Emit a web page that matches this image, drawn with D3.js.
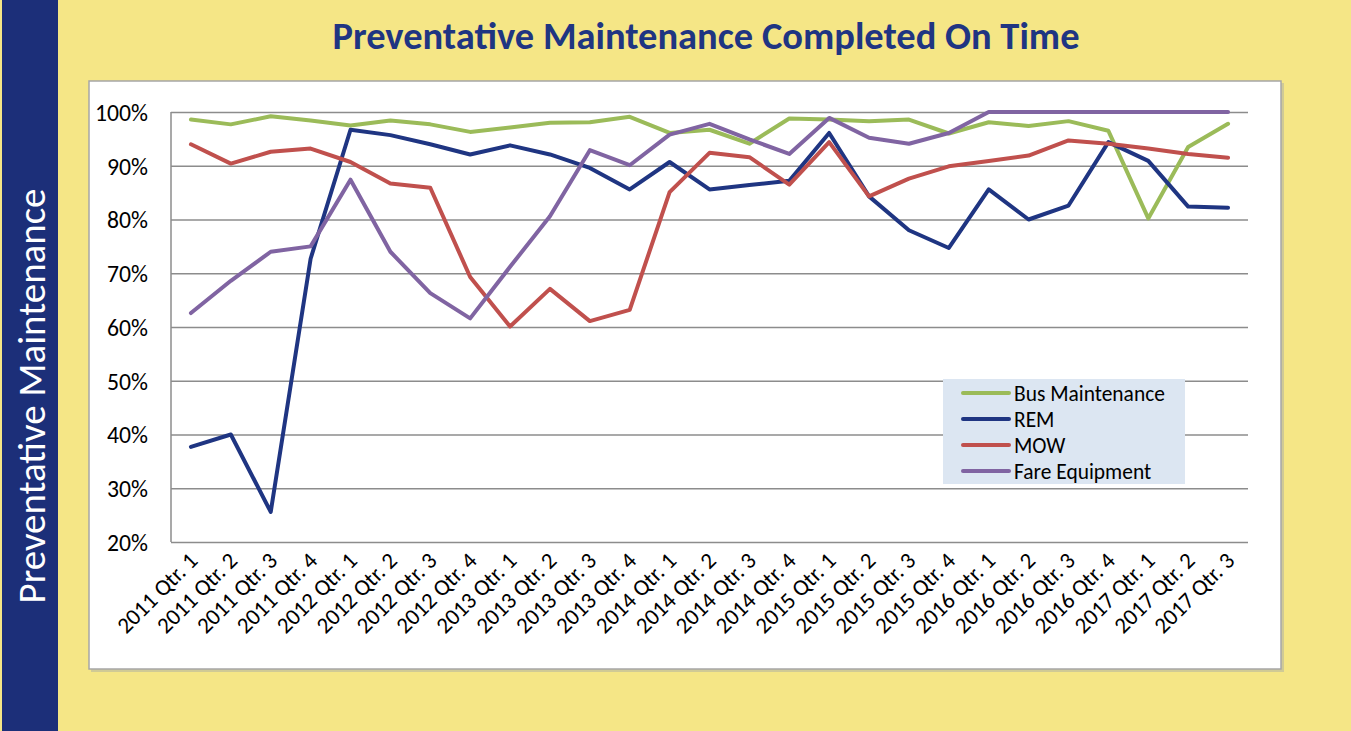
<!DOCTYPE html>
<html>
<head>
<meta charset="utf-8">
<script src="https://cdn.jsdelivr.net/npm/d3@7/dist/d3.min.js"></script>
<style>
  html, body { margin: 0; padding: 0; background: #F5E686; }
  svg { display: block; }
  text { font-family: Carlito, Calibri, "Open Sans", sans-serif; }
</style>
</head>
<body>
<svg id="chart" width="1351" height="731"></svg>
<script>
const categories = [
  "2011 Qtr. 1","2011 Qtr. 2","2011 Qtr. 3","2011 Qtr. 4",
  "2012 Qtr. 1","2012 Qtr. 2","2012 Qtr. 3","2012 Qtr. 4",
  "2013 Qtr. 1","2013 Qtr. 2","2013 Qtr. 3","2013 Qtr. 4",
  "2014 Qtr. 1","2014 Qtr. 2","2014 Qtr. 3","2014 Qtr. 4",
  "2015 Qtr. 1","2015 Qtr. 2","2015 Qtr. 3","2015 Qtr. 4",
  "2016 Qtr. 1","2016 Qtr. 2","2016 Qtr. 3","2016 Qtr. 4",
  "2017 Qtr. 1","2017 Qtr. 2","2017 Qtr. 3"
];
const busMaintenance = [98.6,97.7,99.2,98.4,97.5,98.4,97.7,96.3,97.1,98.0,98.1,99.1,96.1,96.7,94.1,98.8,98.6,98.3,98.6,96.0,98.1,97.4,98.3,96.5,80.2,93.5,97.8];
const rem = [37.7,40.0,25.6,72.7,96.7,95.7,94.0,92.1,93.8,92.1,89.6,85.6,90.7,85.6,86.4,87.2,96.1,84.3,78.0,74.7,85.6,80.0,82.6,94.4,90.9,82.4,82.2];
const mow = [94.0,90.4,92.6,93.2,90.7,86.7,85.9,69.3,60.1,67.1,61.1,63.2,85.1,92.4,91.6,86.5,94.4,84.3,87.6,89.9,90.9,91.9,94.7,94.1,93.2,92.2,91.5];
const fareEquipment = [62.6,68.6,74.0,75.0,87.4,74.0,66.3,61.6,71.2,80.6,92.9,90.1,95.8,97.8,94.9,92.2,98.9,95.2,94.1,96.1,100,100,100,100,100,100,100];
const seriesNames = ["Bus Maintenance","REM","MOW","Fare Equipment"];
const seriesColors = ["#9BBB59","#1F3582","#C0504D","#8064A2"];
const yTicks = [20,30,40,50,60,70,80,90,100];
const titleText = "Preventative Maintenance Completed On Time";
const yAxisTitle = "Preventative Maintenance";

const seriesValues = [busMaintenance, rem, mow, fareEquipment];
const svg = d3.select("#chart");

function fitWidth(sel, target, base) {
  sel.style("font-size", base + "px");
  const w = sel.node().getComputedTextLength();
  sel.style("font-size", (base * target / w).toFixed(2) + "px");
}

// backgrounds
svg.append("rect").attr("x",0).attr("y",0).attr("width",1351).attr("height",731).attr("fill","#F5E686");
svg.append("rect").attr("x",2).attr("y",0).attr("width",56).attr("height",731).attr("fill","#1C2F79");

// vertical side title
const yt = svg.append("text")
  .attr("transform","translate(45,396) rotate(-90)")
  .attr("text-anchor","middle")
  .attr("fill","#FFFFFF")
  .text(yAxisTitle);
fitWidth(yt, 415, 28);

// main title
const tt = svg.append("text")
  .attr("x",706).attr("y",49)
  .attr("text-anchor","middle")
  .attr("fill","#1F3582")
  .attr("font-weight","bold")
  .text(titleText);
fitWidth(tt, 747, 32);

// chart box
svg.append("rect").attr("x",91).attr("y",83).attr("width",1193).attr("height",589).attr("fill","#B8B8A0").attr("opacity",0.6);
svg.append("rect").attr("x",89).attr("y",81).attr("width",1192).attr("height",588)
  .attr("fill","#FFFFFF").attr("stroke","#A6A6A6").attr("stroke-width",1.5);

const margin = {left:171, right:1248, top:112, bottom:542};
const x = d3.scaleBand().domain(categories).range([margin.left, margin.right]);
const y = d3.scaleLinear().domain([20,100]).range([margin.bottom, margin.top]);
const cx = d => x(d) + x.bandwidth()/2;

// gridlines
const yAxis = d3.axisLeft(y).tickValues(yTicks).tickFormat(d => d + "%").tickSize(0).tickPadding(0);
const gy = svg.append("g").attr("transform",`translate(${margin.left},0)`).call(yAxis);
gy.select(".domain").remove();
gy.selectAll(".tick line").remove();
gy.selectAll(".tick").append("line")
  .attr("x1",0).attr("x2",margin.right-margin.left)
  .attr("stroke","#8C8C8C").attr("stroke-width",1.5);
gy.selectAll(".tick text")
  .attr("x",-23).attr("dy","0.35em")
  .attr("fill","#000").attr("font-family",null)
  .style("font-size","20px");
// fit tick label size
{
  const t = gy.selectAll(".tick text").filter(d => d === 100);
  t.style("font-size","20px");
  const w = t.node().getComputedTextLength();
  const fs = (20*53/w).toFixed(2);
  gy.selectAll(".tick text").style("font-size", fs+"px");
}
// left axis line
svg.append("line").attr("x1",margin.left).attr("x2",margin.left)
  .attr("y1",margin.top).attr("y2",margin.bottom)
  .attr("stroke","#8C8C8C").attr("stroke-width",1.5);

// x labels
const xAxis = d3.axisBottom(x).tickSize(0).tickPadding(0);
const gx = svg.append("g").attr("transform",`translate(0,${margin.bottom})`).call(xAxis);
gx.select(".domain").remove();
gx.selectAll(".tick text")
  .attr("font-family",null)
  .attr("fill","#000")
  .attr("text-anchor","end")
  .attr("y",0).attr("dy",0)
  .attr("transform","translate(8,20) rotate(-45)");
{
  const t = gx.select(".tick text");
  t.style("font-size","17px");
  const w = t.node().getComputedTextLength();
  const fs = (17*103/w).toFixed(2);
  gx.selectAll(".tick text").style("font-size", fs+"px");
}

// lines
const line = d3.line().x((d,i) => cx(categories[i])).y(d => y(d));
seriesValues.forEach((vals, k) => {
  svg.append("path").datum(vals)
    .attr("d", line)
    .attr("fill","none")
    .attr("stroke", seriesColors[k])
    .attr("stroke-width",4)
    .attr("stroke-linejoin","round")
    .attr("stroke-linecap","round");
});

// legend
const lg = svg.append("g");
lg.append("rect").attr("x",943).attr("y",379).attr("width",242).attr("height",105).attr("fill","#DCE6F2");
let legendFs = null;
seriesNames.forEach((name,k) => {
  const yy = 393 + k*26;
  lg.append("line").attr("x1",963).attr("x2",1009).attr("y1",yy).attr("y2",yy)
    .attr("stroke",seriesColors[k]).attr("stroke-width",4).attr("stroke-linecap","round");
  const t = lg.append("text").attr("x",1014).attr("y",yy).attr("dy","0.35em").attr("fill","#000").text(name);
  if (k === 0) { fitWidth(t, 151, 18); legendFs = t.style("font-size"); }
  else t.style("font-size", legendFs);
});
</script>
</body>
</html>
